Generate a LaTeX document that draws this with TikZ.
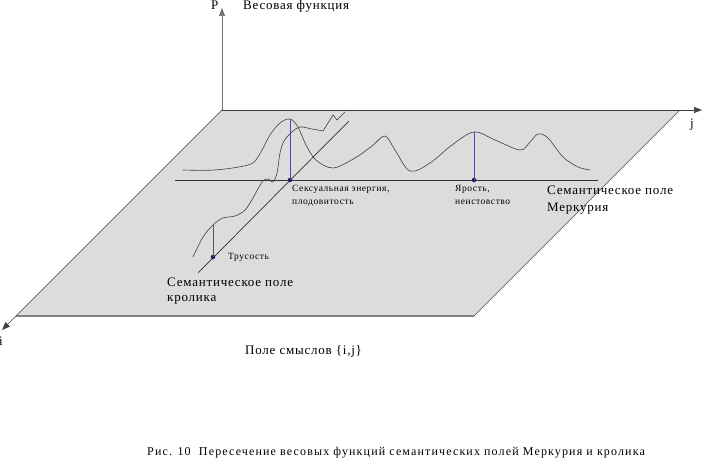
\documentclass[tikz,border=0pt]{standalone}
\usepackage{fontspec}
\setmainfont{Liberation Serif}[LetterSpace=6]
\usetikzlibrary{arrows.meta}
\definecolor{fillgray}{RGB}{220,220,220}
\definecolor{stemblue}{RGB}{80,76,140}
\definecolor{dotblue}{RGB}{30,30,90}
\begin{document}
\begin{tikzpicture}[x=1pt,y=-1pt,
  axis/.style={draw=black!75, line width=0.6pt, -{Triangle[length=8pt,width=6pt]}},
  fieldline/.style={draw=black!80, line width=0.7pt},
  curve/.style={draw=black!75, line width=0.6pt},
  stem/.style={draw=stemblue, line width=0.8pt},
  dot/.style={circle, fill=dotblue, inner sep=0pt, minimum size=4.5pt},
  biglab/.style={font=\fontsize{13}{15}\selectfont, anchor=base west, inner sep=0pt},
  smalllab/.style={font=\fontsize{9.5}{11}\selectfont, anchor=base west, inner sep=0pt}]
\useasboundingbox (0,0) rectangle (702,462);
% plane
\coordinate (O) at (222,110);
\coordinate (TR) at (680,110);
\coordinate (BR) at (474,316);
\coordinate (BL) at (16,316);
\fill[fillgray] (O) -- (TR) -- (BR) -- (BL) -- cycle;
\draw[black!70, line width=0.5pt] (TR) -- (BR);
\draw[black!50, line width=1.5pt] (BL) -- (BR);
% axes
\coordinate (Jend) at (702,110);
\coordinate (Pend) at (222,8);
\coordinate (Iend) at (2,330);
\draw[axis] (O) -- (Jend);
\draw[axis, draw=black!55] (O) -- (Pend);
\draw[axis] (O) -- (Iend);
\node[biglab] (jlab) at (690,128) {j};
\node[biglab] (ilab) at (-1,346) {i};
\node[biglab] (plab) at (211,10) {P};
\node[biglab] (wlab) at (243,10) {Весовая функция};
% field lines
\coordinate (Ma) at (175,180);
\coordinate (Mb) at (598,180);
\coordinate (Ra) at (198,273);
\coordinate (Rb) at (349,121);
\draw[fieldline] (Ma) -- (Mb);
\draw[fieldline] (Ra) -- (Rb);
% curves
\draw[curve] plot[smooth, tension=0.55] coordinates {(183,170) (215,170) (248,165) (258,157) (270,135) (280,123) (290,119) (298,127) (306,145) (316,160) (333,168) (355,158) (372,146) (385,136) (395,150) (410,171) (430,163) (452,145) (474,132) (495,140) (520,150) (530,142) (538,134) (548,138) (563,157) (578,167) (590,170)};
\draw[curve] plot[smooth, tension=0.55] coordinates {(193,257) (203,237) (213,225) (223,218) (235,216) (245,210) (253,198) (262,182) (268,179) (273,182) (277,173) (280,153) (284,141) (292,132) (300,127) (312,129) (323,131)} -- (333,115) -- (337,120) -- (345,112);
% stems and dots
\coordinate (Sp) at (290,119);
\coordinate (Yp) at (474,132);
\coordinate (Tp) at (213,225);
\node[dot] (S) at (290,180) {};
\node[dot] (Y) at (474,180) {};
\node[dot] (T) at (213,257) {};
\draw[stem] (S.center) -- (Sp);
\draw[stem] (Y.center) -- (Yp);
\draw[stem] (T.center) -- (Tp);
% labels
\node[smalllab] (s1) at (292,192) {Сексуальная энергия,};
\node[smalllab] (s2) at (292,205) {плодовитость};
\node[smalllab] (y1) at (455,192) {Ярость,};
\node[smalllab] (y2) at (455,205) {неистовство};
\node[smalllab] (t1) at (228,260) {Трусость};
\node[biglab] (m1) at (547,195) {Семантическое поле};
\node[biglab] (m2) at (547,212) {Меркурия};
\node[biglab] (k1) at (167,287) {Семантическое поле};
\node[biglab] (k2) at (167,302) {кролика};
\node[biglab] (pole) at (245,355) {Поле смыслов \{i,j\}};
\node[biglab, font=\fontsize{12}{14}\selectfont\addfontfeatures{LetterSpace=9.5}] (cap) at (147,456) {Рис. 10\ \ Пересечение весовых функций семантических полей Меркурия и кролика};
\end{tikzpicture}
\end{document}
